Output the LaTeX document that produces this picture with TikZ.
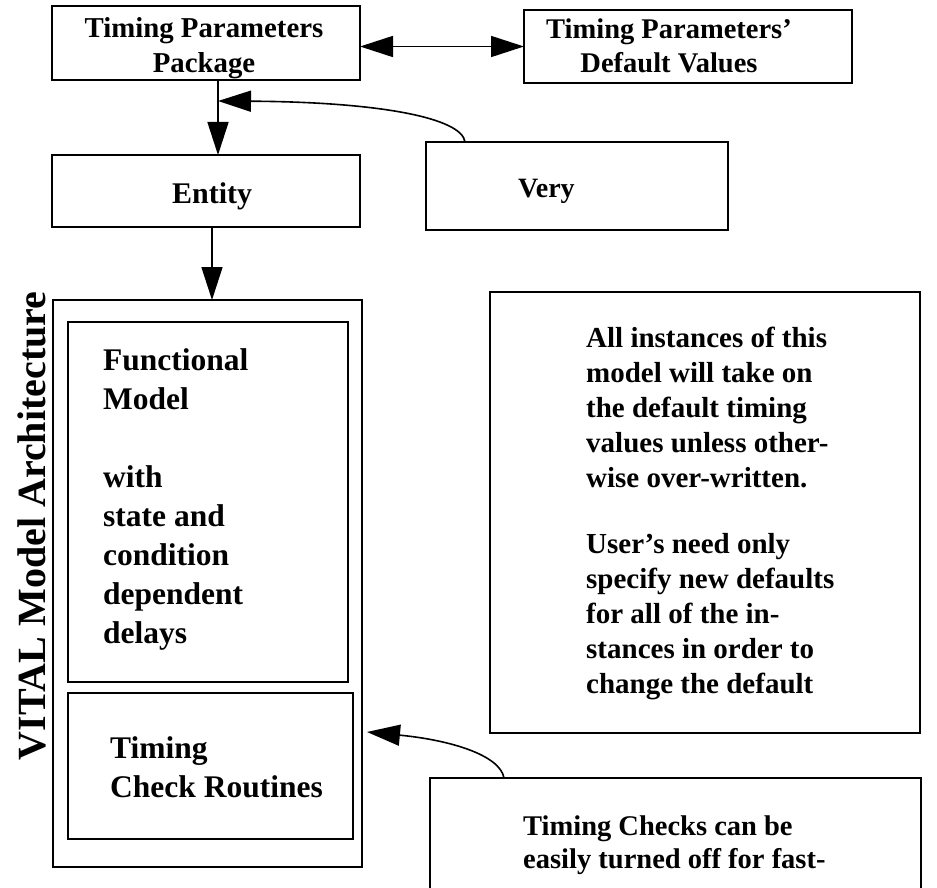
\documentclass[tikz,border=0pt]{standalone}
\usepackage{fontspec}
\setmainfont{Liberation Serif}
\usetikzlibrary{arrows.meta}
\tikzset{
  box/.style={draw, line width=1.6pt, inner sep=0pt, outer sep=0pt, anchor=north west},
  txt/.style={inner sep=0pt, anchor=north west, align=left},
  ctxt/.style={inner sep=0pt, anchor=north, align=center},
  line/.style={inner sep=0pt, anchor=base west},
  arr/.style={line width=1.6pt, -{Triangle[length=33pt,width=21pt]}},
  arrb/.style={line width=1.6pt, {Triangle[length=33pt,width=21pt]}-{Triangle[length=33pt,width=21pt]}}
}
\begin{document}
\begin{tikzpicture}[x=1pt,y=-1pt]
\useasboundingbox (0,0) rectangle (937,888);
\fill[white] (0,0) rectangle (937,888);
\clip (0,0) rectangle (937,888);
% boxes
\node[box, minimum width=308pt, minimum height=74pt] (tpp) at (52,6) {};
\node[box, minimum width=328pt, minimum height=73pt] (tpdv) at (524,10) {};
\node[box, minimum width=308pt, minimum height=72pt] (entity) at (52,155) {};
\node[box, minimum width=302pt, minimum height=88pt] (very) at (426,142) {};
\node[box, minimum width=309pt, minimum height=567pt] (outer) at (53,300) {};
\node[box, minimum width=280pt, minimum height=360pt] (fm) at (68,322) {};
\node[box, minimum width=285pt, minimum height=146pt] (tcr) at (68,693) {};
\node[box, minimum width=430pt, minimum height=441pt] (notes) at (490,292) {};
\node[box, minimum width=491pt, minimum height=150pt] (tcnotes) at (430,778) {};
% texts
\node[ctxt, font=\fontsize{28.8}{35}\selectfont\bfseries] (tppt) at (204,12.5) {\strut Timing Parameters\\Package};
\node[ctxt, font=\fontsize{28.5}{34}\selectfont\bfseries] (tpdvt) at (669,14.2) {\strut Timing Parameters'\\Default Values};
\node[line, font=\fontsize{30}{35}\selectfont\bfseries] (entityt) at (172,203) {Entity};
\node[line, font=\fontsize{28}{35}\selectfont\bfseries] (veryt) at (518,197) {Very};
\node[txt, font=\fontsize{31.5}{39}\selectfont\bfseries] (fmt) at (103,342.7) {\strut Functional\\Model\\[39pt]with\\state and\\condition\\dependent\\delays};
\node[txt, font=\fontsize{31.5}{39}\selectfont\bfseries] (tcrt) at (110,730.7) {\strut Timing\\Check Routines};
\node[txt, font=\fontsize{29}{35}\selectfont\bfseries] (notest) at (586,322.5) {\strut All instances of this\\model will take on\\the default timing\\values unless other-\\wise over-written.\\[31pt]User's need only\\specify new defaults\\for all of the in-\\stances in order to\\change the default};
\node[txt, font=\fontsize{28.5}{33}\selectfont\bfseries] (tcnotest) at (523,811.9) {\strut Timing Checks can be\\easily turned off for fast-};
\node[rotate=90, anchor=base, inner sep=0pt, font=\fontsize{40}{46}\selectfont\bfseries] (vital) at (45,526) {VITAL Model Architecture};
% connectors
\draw[arrb] (tpp.east |- tpdv.west) -- (tpdv.west);
\draw[arr] ([xshift=12pt]tpp.south) -- ([xshift=12pt]entity.north);
\coordinate (tip1) at (218,101);
\draw[arr] ([xshift=-112pt]very.north) .. controls (462,118) and (380,102) .. (tip1);
\draw[arr] ([xshift=6pt]entity.south) -- ([xshift=6pt]entity.south |- outer.north);
\coordinate (tip2) at (367,732);
\draw[arr] ([xshift=-171.5pt]tcnotes.north) .. controls (500,755) and (450,740) .. (tip2);
\end{tikzpicture}
\end{document}
